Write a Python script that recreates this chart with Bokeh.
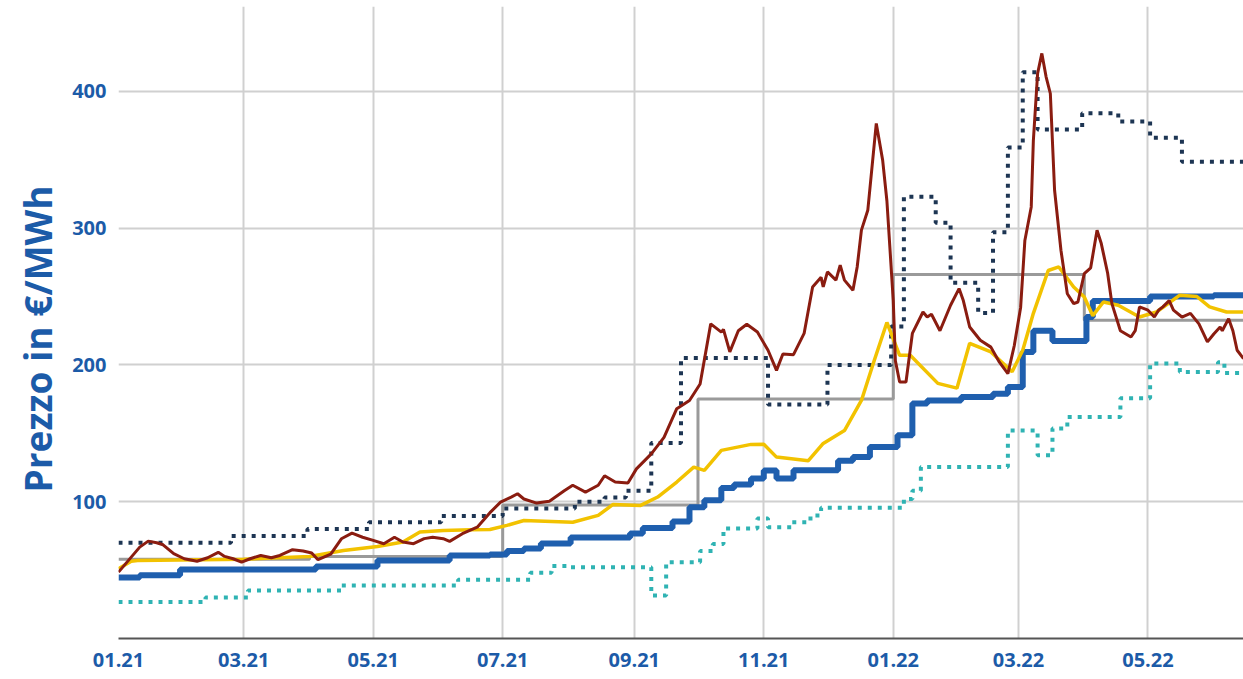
import numpy as np
import pandas as pd
from bokeh.plotting import figure
from bokeh.models import Range1d, MonthsTicker, DatetimeTickFormatter, FixedTicker, Title
from bokeh.embed import file_html
from bokeh.resources import INLINE

START = pd.Timestamp("2021-01-01")
END_DAY = 530  # last visible day (days since 2021-01-01)

# ---- data (x = days since 2021-01-01, y = €/MWh) ----
navy_days = [0, 53, 89, 118, 152, 181, 215, 229, 239, 251, 265, 306, 334, 364, 370,
             385, 392, 405, 412, 419, 426, 433, 454, 471, 486, 501, 530]
navy_vals = [70, 75, 80, 85, 89.5, 95, 100, 103, 108, 143, 205, 171, 200, 228, 323,
             304, 260, 238, 297, 359, 414, 372, 384, 378, 366, 348.5, 348.5]

teal_days = [0, 41, 61, 105, 160, 194, 204, 213, 251, 258, 274, 280, 285, 301, 306,
             317, 326, 331, 370, 374, 378, 419, 433, 440, 447, 472, 486, 500, 518, 521, 530]
teal_vals = [26.6, 30, 35, 38.8, 43, 48, 53, 52, 31.5, 55.8, 64, 69, 80.4, 87.8, 81.4,
             85, 90, 95.6, 102, 108, 125.3, 152, 134, 153.6, 162, 175.6, 201, 194.8, 202, 194, 194]

blue_days = [0, 10, 29, 93, 122, 156, 175, 183, 191, 199, 213, 241, 247, 261, 269, 276,
             284, 290, 298, 304, 310, 318, 339, 346, 354, 367, 374, 381, 397, 412, 419,
             426, 431, 440, 456, 459, 486, 516, 530]
blue_vals = [44.6, 46.3, 50.5, 52.7, 57, 60.7, 61.4, 63.9, 65.8, 69.5, 73.9, 76.8, 80.7,
             85.6, 96, 101, 110, 112.6, 117, 122.9, 117, 123, 130, 132.6, 140, 148.5,
             171.8, 174, 176.5, 179, 183.8, 209.5, 225, 217.5, 235, 246.8, 250, 251, 251]

gray_days = [0, 90, 181, 273, 365, 455, 530]
gray_vals = [58, 60, 97.5, 175, 266, 232.6, 232.6]

yellow_days = [0, 6, 9, 59, 90, 106, 122, 134, 142, 153, 166, 175, 183, 191, 214, 226,
               233, 246, 254, 263, 271, 276, 284, 298, 304, 310, 325, 332, 342, 350, 356,
               362, 368, 373, 386, 395, 401, 411, 421, 426, 431, 438, 443, 450, 455, 459,
               464, 471, 481, 489, 500, 508, 514, 522, 530]
yellow_vals = [51, 56.5, 57, 58, 60, 64.4, 67.3, 70.5, 77.8, 79, 79.5, 79.7, 82.7, 86.3,
               85, 90, 98, 97.3, 103.4, 114.4, 125.3, 122.9, 137.5, 141.9, 142, 132.6,
               130, 142.6, 152, 174, 203, 231, 207, 207, 186.5, 183, 215.8, 209.5, 195,
               210.7, 237.7, 269, 271.6, 257, 249.7, 236, 246, 243.6, 235, 238.7, 251,
               250, 242.4, 238.7, 238.7]

red_days = [0, 6, 10, 14, 18, 21, 26, 31, 37, 42, 47, 50, 54, 58, 62, 67, 72, 76, 82, 87,
            91, 94, 100, 105, 110, 115, 120, 125, 130, 134, 139, 144, 148, 153, 156, 162,
            169, 175, 180, 185, 188, 191, 197, 203, 210, 214, 220, 226, 229, 234, 240,
            244, 251, 257, 263, 269, 274, 279, 284, 285, 288, 292, 296, 301, 306, 310,
            313, 318, 323, 327, 331, 332, 334, 338, 340, 342, 346, 348, 350, 353, 357,
            360, 362, 365, 366, 368, 371, 374, 379, 381, 383, 387, 392, 396, 398, 401,
            406, 411, 415, 419, 422, 425, 427, 430, 431, 433, 435, 437, 439, 441, 444,
            447, 450, 452, 455, 458, 461, 463, 466, 468, 472, 477, 479, 481, 485, 488,
            490, 492, 495, 497, 501, 505, 509, 513, 516, 519, 520, 523, 525, 527, 530]
red_vals = [48.5, 59.5, 66.8, 71.2, 70, 68.5, 62, 58.3, 56.5, 59, 63, 60, 58.3, 55.8,
            58.3, 60.7, 59, 60.7, 64.9, 64, 62.5, 57.6, 61.7, 72.9, 77, 74, 71.7, 69.3,
            74, 70.5, 69.3, 73, 74, 73, 71, 76.6, 81.4, 92, 99.7, 103.4, 105.8, 102, 99,
            100.4, 108, 112, 107, 112, 119, 114.4, 113.6, 124, 135, 147, 168, 174, 186,
            230, 224, 226, 209.5, 225, 229.7, 224, 210.7, 196, 208, 207.5, 223, 257, 264,
            257, 268, 262, 272.9, 262, 254.6, 271.6, 298.5, 313, 376.5, 349.7, 320, 247,
            203, 187.5, 187.5, 223, 238.7, 235, 237, 225, 243.6, 255.8, 247, 227.7, 218,
            213, 202, 193.6, 214, 242, 291, 315.5, 364, 413, 427.7, 410.6, 398.4, 327.7,
            283.8, 252, 244.8, 246, 266.8, 271, 298.5, 288.7, 267, 244.8, 225, 220.4, 225,
            242.4, 240, 235, 240, 242.4, 247, 240, 235, 237.7, 230, 216.8, 222.6, 227.7,
            225, 233.8, 225, 210.7, 204.6]

y_title = "Prezzo in €/MWh"


def to_dates(days):
    return START + pd.to_timedelta(np.array(days, dtype=float), unit="D")


BLUE_TXT = "#1c5ba8"
FONT = "Open Sans"

p = figure(width=1243, height=679, x_axis_type="datetime",
           output_backend="svg", toolbar_location=None,
           x_range=Range1d(START, START + pd.Timedelta(days=END_DAY)),
           y_range=Range1d(0, 462),
           min_border_left=118, min_border_right=0, min_border_top=6,
           min_border_bottom=41)
p.outline_line_color = None
p.background_fill_color = "white"

# series
p.step(to_dates(gray_days), gray_vals, mode="after", line_color="#9a9a9a", line_width=3)
p.step(to_dates(teal_days), teal_vals, mode="after", line_color="#2fb3b3",
       line_width=4, line_dash="4 6")
p.step(to_dates(navy_days), navy_vals, mode="after", line_color="#1d3553",
       line_width=4, line_dash="4 6")
p.step(to_dates(blue_days), blue_vals, mode="after", line_color="#1f5fae", line_width=6)
p.line(to_dates(yellow_days), yellow_vals, line_color="#f2c200", line_width=3.5)
p.line(to_dates(red_days), red_vals, line_color="#8a1c10", line_width=3)

# axes
p.xaxis.ticker = MonthsTicker(months=[0, 2, 4, 6, 8, 10])
p.xaxis.formatter = DatetimeTickFormatter(months="%m.%y", days="%m.%y", years="%m.%y")
p.yaxis.ticker = FixedTicker(ticks=[100, 200, 300, 400])

for ax in (p.xaxis[0], p.yaxis[0]):
    ax.major_tick_line_color = None
    ax.minor_tick_line_color = None
    ax.major_label_text_font = FONT
    ax.major_label_text_font_style = "bold"
    ax.major_label_text_font_size = "20px"
    ax.major_label_text_color = BLUE_TXT

p.xaxis.major_tick_out = 0
p.xaxis.major_tick_in = 0
p.xaxis.minor_tick_out = 0
p.xaxis.minor_tick_in = 0
p.xaxis.axis_line_color = "#555555"
p.xaxis.axis_line_width = 2
p.xaxis.major_label_standoff = 14

p.yaxis.major_tick_out = 4
p.yaxis.major_tick_in = 0
p.yaxis.minor_tick_in = 0
p.yaxis.axis_line_color = None
p.yaxis.major_label_standoff = 8

title = Title(text=y_title, align="left", offset=146, standoff=14,
              text_font=FONT, text_font_style="bold", text_font_size="37px",
              text_color=BLUE_TXT)
p.add_layout(title, "left")

p.xgrid.grid_line_color = "#d0d0d0"
p.xgrid.grid_line_width = 2
p.ygrid.grid_line_color = "#d0d0d0"
p.ygrid.grid_line_width = 2

open("out.html", "w").write(file_html(p, INLINE))
